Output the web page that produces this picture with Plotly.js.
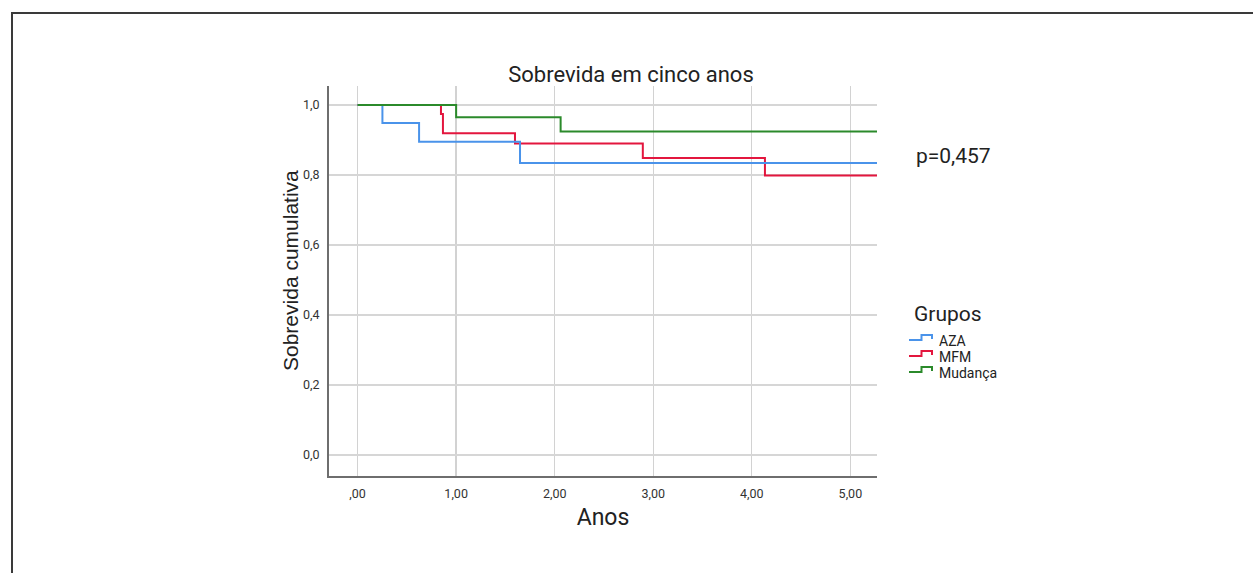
<!DOCTYPE html>
<html>
<head>
<meta charset="utf-8">
<script src="https://cdn.plot.ly/plotly-3.0.1.min.js"></script>
<style>
  html, body { margin: 0; padding: 0; background: #ffffff; }
  #wrap { position: relative; width: 1253px; height: 573px; overflow: hidden; }
  #chart { width: 1253px; height: 573px; }
  #frame { position: absolute; left: 11px; top: 12px; right: -10px; bottom: -10px;
           border-top: 2px solid #3a3a3a; border-left: 2px solid #3a3a3a; pointer-events: none; }
</style>
</head>
<body>
<div id="wrap">
  <div id="chart"></div>
  <div id="frame"></div>
</div>
<script>
// ---- data ----
const groupNames = ["AZA", "MFM", "Mudança"];
const groupColors = ["#4a93ea", "#e3163e", "#2b8a2b"];

const azaTime = [0, 0.252, 0.624, 1.648, 5.4];
const azaSurv = [1.0, 0.948, 0.895, 0.834, 0.834];

const mfmTime = [0, 0.846, 0.866, 1.597, 2.894, 4.133, 5.4];
const mfmSurv = [1.0, 0.974, 0.919, 0.890, 0.848, 0.798, 0.798];

const mudTime = [0, 1.0, 2.06, 5.4];
const mudSurv = [1.0, 0.965, 0.924, 0.924];

const xTickVals = [0, 1, 2, 3, 4, 5];
const xTickText = [",00", "1,00", "2,00", "3,00", "4,00", "5,00"];
const yTickVals = [0, 0.2, 0.4, 0.6, 0.8, 1.0];
const yTickText = ["0,0", "0,2", "0,4", "0,6", "0,8", "1,0"];

const chartTitle = "Sobrevida em cinco anos";
const xTitle = "Anos";
const yTitle = "Sobrevida cumulativa";
const pValueText = "p=0,457";
const legendTitle = "Grupos";

// ---- layout geometry (pixels) ----
const W = 1253, H = 573;
const PL = 329, PR = 877, PT = 86, PB = 476;
const px2x = p => (p - PL) / (PR - PL);
const py2y = p => (PB - p) / (PB - PT);

const series = [
  {t: mfmTime, s: mfmSurv, i: 1},
  {t: azaTime, s: azaSurv, i: 0},
  {t: mudTime, s: mudSurv, i: 2}
];

const traces = series.map(d => ({
  type: "scatter",
  mode: "lines",
  x: d.t,
  y: d.s,
  name: groupNames[d.i],
  line: {shape: "hv", color: groupColors[d.i], width: 2},
  showlegend: false,
  hoverinfo: "x+y+name"
}));

const annotations = [
  {text: yTitle, xref: "paper", yref: "paper", x: px2x(290), y: py2y(271),
   xanchor: "center", yanchor: "middle", textangle: -90, showarrow: false,
   font: {family: "Liberation Sans, Arial, sans-serif", size: 21, color: "#222"}},
  {text: pValueText, xref: "paper", yref: "paper", x: px2x(914), y: py2y(156),
   xanchor: "left", yanchor: "middle", showarrow: false,
   font: {family: "Roboto, sans-serif", size: 21, color: "#222"}},
  {text: legendTitle, xref: "paper", yref: "paper", x: px2x(912), y: py2y(314),
   xanchor: "left", yanchor: "middle", showarrow: false,
   font: {family: "Roboto, sans-serif", size: 21, color: "#222"}}
];

const shapes = [];
const legendY = [340, 356, 372];
groupNames.forEach((g, k) => {
  const c = legendY[k];
  annotations.push({text: g, xref: "paper", yref: "paper", x: px2x(937), y: py2y(c + 1),
    xanchor: "left", yanchor: "middle", showarrow: false,
    font: {family: "Roboto, sans-serif", size: 14, color: "#222"}});
  const pts = [[909, c], [921.5, c], [921.5, c - 5], [932, c - 5], [932, c - 1]];
  const path = pts.map((p, j) => (j ? "L" : "M") + px2x(p[0]).toFixed(5) + "," + py2y(p[1]).toFixed(5)).join(" ");
  shapes.push({type: "path", xref: "paper", yref: "paper", path: path,
    line: {color: groupColors[k], width: 2}});
});

const layout = {
  width: W, height: H,
  margin: {l: PL, r: W - PR, t: PT, b: H - PB, pad: 0},
  paper_bgcolor: "#ffffff",
  plot_bgcolor: "#ffffff",
  showlegend: false,
  title: {text: chartTitle, xref: "paper", x: px2x(631), xanchor: "center",
          yref: "container", y: 1 - 74 / H, yanchor: "middle",
          font: {family: "Roboto, sans-serif", size: 22, color: "#222"}},
  xaxis: {
    range: [-0.29, 5.27], tickvals: xTickVals, ticktext: xTickText,
    showgrid: true, gridcolor: "#d2d2d2", gridwidth: 1.3,
    zeroline: false, showline: true, linecolor: "#6e6e6e", linewidth: 2,
    ticks: "", ticklabelstandoff: 5,
    tickfont: {family: "Roboto, sans-serif", size: 12.5, color: "#333"},
    title: {text: xTitle, standoff: 9,
            font: {family: "Roboto, sans-serif", size: 23, color: "#222"}},
    fixedrange: true
  },
  yaxis: {
    range: [-0.06, 1.054], tickvals: yTickVals, ticktext: yTickText,
    showgrid: true, gridcolor: "#d6d6d6", gridwidth: 2,
    zeroline: false, showline: true, linecolor: "#6e6e6e", linewidth: 2,
    ticks: "", ticklabelstandoff: 5,
    tickfont: {family: "Roboto, sans-serif", size: 12.5, color: "#333"},
    fixedrange: true
  },
  annotations: annotations,
  shapes: shapes,
  font: {family: "Roboto, sans-serif", color: "#222"}
};

Plotly.newPlot("chart", traces, layout, {displayModeBar: false, staticPlot: true});
</script>
</body>
</html>
